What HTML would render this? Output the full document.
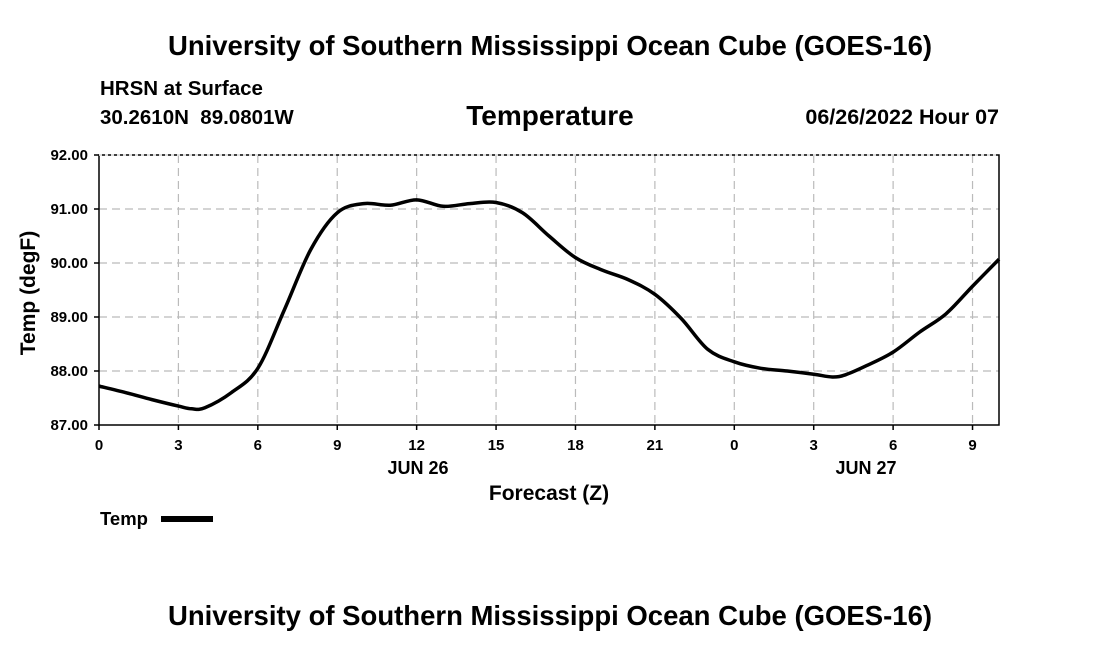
<!DOCTYPE html>
<html><head><meta charset="utf-8"><style>
body{margin:0;background:#fff;}
svg{display:block;font-family:"Liberation Sans",Arial,sans-serif;font-weight:bold;}
</style></head><body>
<svg id="chart" width="1100" height="650" viewBox="0 0 1100 650">
<text x="550" y="55" text-anchor="middle" font-size="27.5">University of Southern Mississippi Ocean Cube (GOES-16)</text>
<text x="100" y="95" font-size="20.5">HRSN at Surface</text>
<text x="100" y="124" font-size="20.5" style="white-space:pre">30.2610N  89.0801W</text>
<text x="550" y="125" text-anchor="middle" font-size="28">Temperature</text>
<text x="999" y="124" text-anchor="end" font-size="21.5">06/26/2022 Hour 07</text>
<g id="grid"></g>
<g id="axes"></g>
<path id="line" fill="none" stroke="#000" stroke-width="3.5"></path>
<text x="549" y="500" text-anchor="middle" font-size="21">Forecast (Z)</text>
<text transform="translate(35,293) rotate(-90)" text-anchor="middle" font-size="21">Temp (degF)</text>
<text x="418" y="474" text-anchor="middle" font-size="18">JUN 26</text>
<text x="866" y="474" text-anchor="middle" font-size="18">JUN 27</text>
<g>
<text x="100" y="525" font-size="18.5">Temp</text>
<rect x="161" y="516" width="52" height="6" fill="#000"></rect>
</g>
<text x="550" y="625" text-anchor="middle" font-size="27.5">University of Southern Mississippi Ocean Cube (GOES-16)</text>
</svg>
<script>
const hours=[0,1,2,3,3.5,4,5,6,7,8,9,10,11,12,13,14,15,16,17,18,19,20,21,22,23,24,25,26,27,27.7,28.2,29,30,31,32,33,34];
const temps=[87.72,87.6,87.47,87.35,87.3,87.32,87.6,88.05,89.13,90.25,90.93,91.1,91.07,91.17,91.05,91.1,91.12,90.93,90.5,90.1,89.87,89.69,89.42,88.97,88.4,88.17,88.05,88.0,87.94,87.89,87.93,88.1,88.35,88.72,89.06,89.57,90.07];
const yTicks=[87,88,89,90,91,92];
const xTickHours=[0,3,6,9,12,15,18,21,24,27,30,33];
const xTickLabels=["0","3","6","9","12","15","18","21","0","3","6","9"];
const X0=99,X1=999,Y0=425,Y1=155,HMAX=34,TMIN=87,TMAX=92;
const xs=h=>X0+(X1-X0)*h/HMAX;
const ys=t=>Y0-(Y0-Y1)*(t-TMIN)/(TMAX-TMIN);
const NS="http://www.w3.org/2000/svg";
const gridG=document.getElementById('grid'),axesG=document.getElementById('axes');
function mk(tag,at,parent){const e=document.createElementNS(NS,tag);for(const k in at)e.setAttribute(k,at[k]);parent.appendChild(e);return e;}
yTicks.forEach((t,i)=>{
 const y=ys(t);
 if(i>0&&i<yTicks.length-1){const g=mk('line',{x1:X0,x2:X1,y1:y,y2:y,stroke:'#bbb','stroke-width':1.2,'stroke-dasharray':'8,5'},gridG);
 
 }
 const tk=mk('line',{x1:X0-5,x2:X0,y1:y,y2:y,stroke:'#000','stroke-width':1.5},axesG);
 
 
 const tx=mk('text',{x:X0-11,y:y+5,'text-anchor':'end','font-size':15},axesG);
 tx.textContent=t.toFixed(2);
 
 
});
xTickHours.forEach((h,i)=>{
 const x=xs(h);
 if(h>0){const g=mk('line',{x1:x,x2:x,y1:Y1,y2:Y0,stroke:'#bbb','stroke-width':1.2,'stroke-dasharray':'8,5'},gridG);
 
 }
 const tk=mk('line',{x1:x,x2:x,y1:Y0,y2:Y0+5,stroke:'#000','stroke-width':1.5},axesG);
 
 
 const tx=mk('text',{x:x,y:Y0+25,'text-anchor':'middle','font-size':15},axesG);
 tx.textContent=xTickLabels[i];
 
 
});
const frame=mk('rect',{x:X0,y:Y1,width:X1-X0,height:Y0-Y1,fill:'none',stroke:'#000','stroke-width':1.5},axesG);


const topBorder=mk('line',{x1:X0,x2:X1,y1:Y1,y2:Y1,stroke:'#fff','stroke-width':1.6,'stroke-dasharray':'3,3'},axesG);


const P=hours.map((h,i)=>[xs(h),ys(temps[i])]);
let d='M'+P[0][0]+','+P[0][1];
for(let i=0;i<P.length-1;i++){
 const p0=P[Math.max(0,i-1)],p1=P[i],p2=P[i+1],p3=P[Math.min(P.length-1,i+2)];
 const c1=[p1[0]+(p2[0]-p0[0])/6,p1[1]+(p2[1]-p0[1])/6];
 const c2=[p2[0]-(p3[0]-p1[0])/6,p2[1]-(p3[1]-p1[1])/6];
 d+=' C'+c1+' '+c2+' '+p2;
}
document.getElementById('line').setAttribute('d',d);
</script>
</body></html>
